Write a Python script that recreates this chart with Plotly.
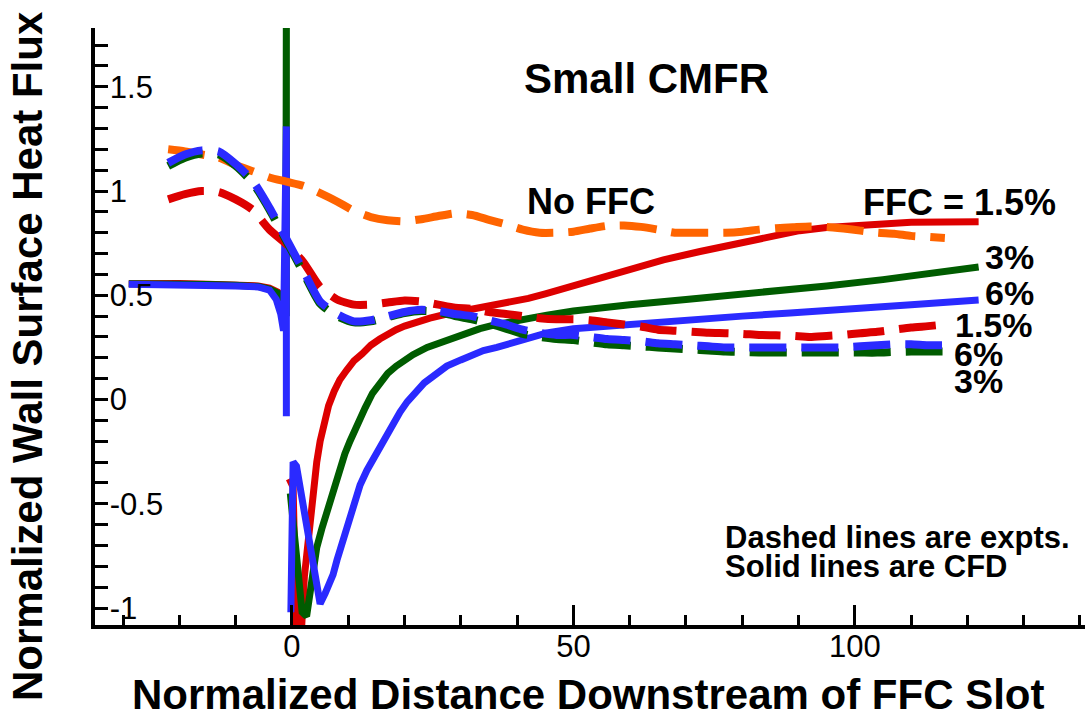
import plotly.graph_objects as go

# ---- experimental (dashed) profiles ----
x_expt = [-22, -19, -16, -13, -10, -7, -4, -1, 2, 5, 8, 11, 14, 17, 20, 23, 26, 29, 32, 35,
          38, 41, 44, 47, 50, 53, 56, 59, 62, 65, 68, 71, 74, 77, 80, 83, 86, 89, 92, 95,
          98, 101, 104, 107, 110, 113, 116]

y_no_ffc = [1.20, 1.19, 1.175, 1.16, 1.125, 1.095, 1.065, 1.045, 1.025, 0.99, 0.95, 0.905,
            0.875, 0.86, 0.855, 0.865, 0.88, 0.893, 0.885, 0.862, 0.84, 0.815, 0.80, 0.80,
            0.805, 0.82, 0.833, 0.835, 0.828, 0.815, 0.80, 0.80, 0.80, 0.80, 0.805, 0.815,
            0.822, 0.826, 0.83, 0.828, 0.82, 0.81, 0.80, 0.795, 0.785, 0.78, 0.775]

y_expt_15 = [0.96, 0.985, 1.0, 0.995, 0.96, 0.91, 0.815, 0.745, 0.66, 0.54, 0.48, 0.455,
             0.455, 0.465, 0.475, 0.47, 0.455, 0.44, 0.435, 0.42, 0.41, 0.40, 0.39, 0.385,
             0.385, 0.38, 0.37, 0.36, 0.35, 0.335, 0.33, 0.325, 0.32, 0.318, 0.315, 0.31,
             0.308, 0.305, 0.30, 0.305, 0.31, 0.318, 0.325, 0.335, 0.345, 0.352, 0.36]

y_expt_3 = [1.12, 1.16, 1.18, 1.175, 1.12, 1.04, 0.91, 0.76, 0.61, 0.46, 0.40, 0.37,
            0.375, 0.395, 0.415, 0.425, 0.42, 0.40, 0.385, 0.365, 0.34, 0.315, 0.30, 0.29,
            0.285, 0.275, 0.265, 0.26, 0.255, 0.25, 0.245, 0.24, 0.235, 0.23, 0.228, 0.226,
            0.225, 0.225, 0.225, 0.225, 0.225, 0.225, 0.225, 0.228, 0.23, 0.23, 0.23]

y_expt_6 = [1.135, 1.175, 1.195, 1.19, 1.13, 1.05, 0.92, 0.77, 0.62, 0.47, 0.41, 0.375,
            0.38, 0.40, 0.42, 0.43, 0.425, 0.41, 0.40, 0.38, 0.36, 0.335, 0.32, 0.31,
            0.31, 0.30, 0.29, 0.285, 0.28, 0.27, 0.265, 0.26, 0.255, 0.25, 0.25, 0.25,
            0.25, 0.25, 0.25, 0.25, 0.25, 0.255, 0.26, 0.265, 0.265, 0.26, 0.26]

# ---- CFD (solid) profiles: upstream of slot, gap, downstream of slot ----
x_cfd_15 = [-29, -25, -20, -15, -10, -6, -4, -2.5, -1.5, -1.0, None,
            -0.5, 0.2, 0.8, 1.6, 2.2, 2.8, 3.2, 3.8, 4.4, 5.0, 5.5, 6.5, 7.5, 8.5, 9.7, 11,
            12.5, 14, 15.6, 17, 18.5, 20, 21.5, 24.5, 27.5, 30, 33, 36, 39.3, 42, 45, 48,
            51.2, 55, 60, 66, 72.5, 80, 85, 90.2, 95, 100, 105, 110, 116, 122]
y_cfd_15 = [0.555, 0.557, 0.556, 0.553, 0.55, 0.545, 0.535, 0.515, 0.49, 0.47, None,
            -0.38, -0.42, -1.15, -1.15, -0.85, -0.68, -0.56, -0.42, -0.30, -0.20, -0.13,
            -0.03, 0.04, 0.095, 0.14, 0.185, 0.22, 0.26, 0.29, 0.315, 0.335, 0.352, 0.366,
            0.39, 0.41, 0.422, 0.437, 0.452, 0.468, 0.485, 0.507, 0.53, 0.555, 0.585, 0.625,
            0.67, 0.71, 0.755, 0.785, 0.81, 0.825, 0.835, 0.845, 0.85, 0.852, 0.853]

x_cfd_3 = [-29, -25, -20, -15, -10, -6, -4, -2.5, -1.5, -1.1, -1.0, -1.0, None,
           -0.3, 0.8, 1.8, 2.6, 3.3, 4.4, 5.3, 6.2, 7.3, 8.5, 9.4, 10.3, 11.5, 13, 14.3,
           15.6, 17, 18.5, 20, 21.5, 24, 27.5, 30, 33.4, 36, 39, 42, 45.3, 50, 54.7, 60, 70,
           80, 88.5, 95, 105, 115, 122]
y_cfd_3 = [0.555, 0.556, 0.555, 0.552, 0.548, 0.542, 0.53, 0.51, 0.47, 0.43, 1.9, 0.40, None,
           -0.45, -0.75, -1.02, -1.04, -0.90, -0.71, -0.62, -0.54, -0.44, -0.33, -0.26,
           -0.20, -0.12, -0.04, 0.03, 0.08, 0.125, 0.16, 0.19, 0.215, 0.25, 0.285, 0.31,
           0.34, 0.358, 0.375, 0.39, 0.405, 0.425, 0.44, 0.455, 0.48, 0.505, 0.525, 0.545,
           0.575, 0.61, 0.636]

x_cfd_6 = [-29, -25, -20, -15, -10, -6, -4, -2.8, -2.0, -1.5, -1.0, -1.0, None,
           -0.2, 0.2, 0.8, 2.0, 3.5, 5.0, 5.9, 6.6, 7.3, 8.0, 8.8, 9.5, 10.3, 11.2, 12.1,
           13.3, 14.7, 16.2, 17.7, 19.2, 20.5, 22, 23.5, 25, 27.5, 30, 32, 34, 36.4, 41,
           45.3, 50, 54.7, 60, 70, 80, 88.5, 100, 110, 122]
y_cfd_6 = [0.553, 0.553, 0.552, 0.55, 0.545, 0.54, 0.525, 0.48, 0.41, 0.33, 1.31, -0.08, None,
           -1.02, -0.30, -0.32, -0.50, -0.75, -0.98, -0.93, -0.89, -0.84, -0.77, -0.70,
           -0.63, -0.56, -0.48, -0.41, -0.34, -0.27, -0.21, -0.13, -0.06, -0.01, 0.04, 0.08,
           0.11, 0.16, 0.19, 0.215, 0.235, 0.25, 0.29, 0.32, 0.34, 0.35, 0.36, 0.385, 0.40,
           0.415, 0.44, 0.455, 0.477]

# axis ticks
x_major = [0, 50, 100]
x_major_text = ["0", "50", "100"]
y_major = [-1, -0.5, 0, 0.5, 1, 1.5]
y_major_text = ["-1", "-0.5", "0", "0.5", "1", "1.5"]

ORANGE = "#FF6400"
RED = "#DD0000"
GREEN = "#005C00"
BLUE = "#2A2AFF"

FONT = "Liberation Sans, Arial, Helvetica, sans-serif"

W, H = 1088, 719
ML, MR, MT, MB = 95, 3, 28, 94
PW, PH = W - ML - MR, H - MT - MB


def px(xp):
    return (xp - ML) / PW


def py(yp):
    return (H - MB - yp) / PH


fig = go.Figure()

SOLID_W = 7
DASH_W = 8
DASH = "37px,15px"

for xs, ys, c in [(x_cfd_15, y_cfd_15, RED), (x_cfd_3, y_cfd_3, GREEN), (x_cfd_6, y_cfd_6, BLUE)]:
    fig.add_trace(go.Scatter(x=xs, y=ys, mode="lines", connectgaps=False,
                             line=dict(color=c, width=SOLID_W), showlegend=False,
                             hoverinfo="skip"))

for ys, c in [(y_no_ffc, ORANGE), (y_expt_15, RED), (y_expt_3, GREEN), (y_expt_6, BLUE)]:
    fig.add_trace(go.Scatter(x=x_expt, y=ys, mode="lines",
                             line=dict(color=c, width=DASH_W, dash=DASH, shape="spline", smoothing=0.6),
                             showlegend=False, hoverinfo="skip"))

fig.update_xaxes(
    range=[-35.0, 140.9], showgrid=False, zeroline=False,
    showline=True, linecolor="black", linewidth=4,
    tickmode="array", tickvals=x_major, ticktext=x_major_text,
    ticks="inside", ticklen=20, tickwidth=3, tickcolor="black",
    ticklabelstandoff=-9,
    tickfont=dict(family=FONT, size=31, color="black"),
    minor=dict(tickmode="linear", tick0=0, dtick=10, ticks="inside", ticklen=10,
               tickwidth=2.5, tickcolor="black", showgrid=False),
)
fig.update_yaxes(
    range=[-1.0815, 1.782], showgrid=False, zeroline=False,
    showline=True, linecolor="black", linewidth=4,
    tickmode="array", tickvals=y_major, ticktext=y_major_text,
    ticks="inside", ticklen=13, tickwidth=3, tickcolor="black",
    ticklabelposition="inside", ticklabeloverflow="allow", ticklabelstandoff=5,
    tickfont=dict(family=FONT, size=31, color="black"),
    minor=dict(tickmode="linear", tick0=0, dtick=0.1, ticks="inside", ticklen=13,
               tickwidth=2.5, tickcolor="black", showgrid=False),
)


def label(text, xp, yp, size, anchor="center"):
    fig.add_annotation(text=text, xref="paper", yref="paper", x=px(xp), y=py(yp),
                       xanchor=anchor, yanchor="middle", showarrow=False,
                       font=dict(family=FONT, size=size, color="black"))


label("<b>Normalized Distance Downstream of FFC Slot</b>", 588, 694, 42)
fig.add_annotation(text="<b>Normalized Wall Surface Heat Flux</b>", xref="paper", yref="paper",
                   x=px(27), y=py(356), xanchor="center", yanchor="middle", textangle=-90,
                   showarrow=False, font=dict(family=FONT, size=42, color="black"))
label("<b>Small CMFR</b>", 646, 78, 42)
label("<b>No FFC</b>", 591, 201, 36)
label("<b>FFC = 1.5%</b>", 959, 202, 36)
label("<b>3%</b>", 983, 257, 34, "left")
label("<b>6%</b>", 983, 293, 34, "left")
label("<b>1.5%</b>", 953, 325, 34, "left")
label("<b>6%</b>", 952, 354, 34, "left")
label("<b>3%</b>", 952, 381, 34, "left")
label("<b>Dashed lines are expts.</b>", 723, 537, 31, "left")
label("<b>Solid lines are CFD</b>", 723, 566, 31, "left")

fig.update_layout(
    width=W, height=H, autosize=False,
    margin=dict(l=ML, r=MR, t=MT, b=MB, pad=0),
    paper_bgcolor="white", plot_bgcolor="white",
    showlegend=False,
)

fig.write_html("out.html")
